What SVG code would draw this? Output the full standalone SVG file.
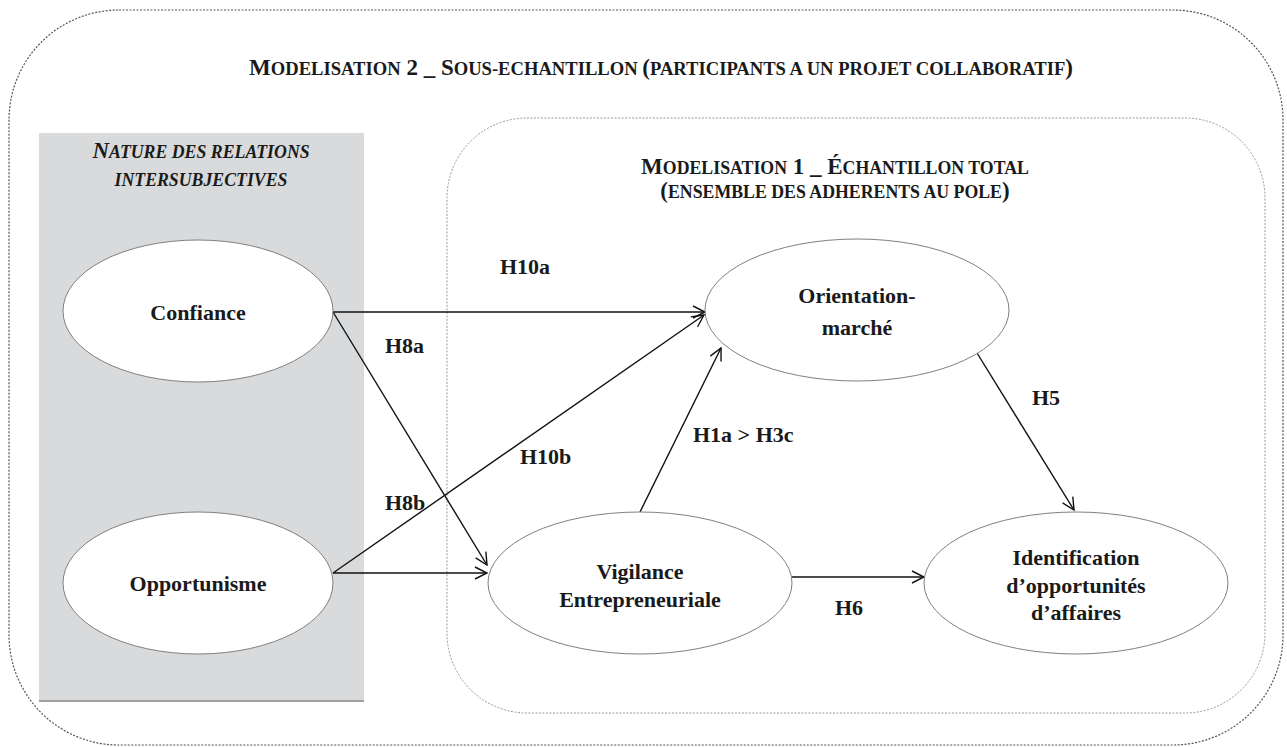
<svg xmlns="http://www.w3.org/2000/svg" width="1287" height="747" viewBox="0 0 1287 747">
<defs>
<style>
.t{font-family:"Liberation Serif","Times New Roman",serif;font-weight:bold;fill:#1a1a1a}
.lbl{font-size:22px}
.node{fill:#fff;stroke:#808080;stroke-width:1}
.conn{stroke:#111;stroke-width:1.4;fill:none;marker-end:url(#ah)}
.big{font-size:23px}
.sm{font-size:17.8px}
.smt{font-size:18.6px}
</style>
<marker id="ah" viewBox="0 0 14 14" refX="13" refY="7" markerWidth="14" markerHeight="14" markerUnits="userSpaceOnUse" orient="auto">
<path d="M1,1 L13,7 L1,13" fill="none" stroke="#111" stroke-width="1.4"/>
</marker>
</defs>
<rect id="outer-frame" x="9" y="10" width="1274" height="735" rx="110" ry="110" fill="none" stroke="#555" stroke-width="1.2" stroke-dasharray="2 1.5"/>
<text class="t" x="661" y="75" text-anchor="middle"><tspan class="big">M</tspan><tspan class="smt">ODELISATION</tspan><tspan class="big"> 2 _ S</tspan><tspan class="smt">OUS-ECHANTILLON </tspan><tspan class="big">(</tspan><tspan class="smt">PARTICIPANTS A UN PROJET COLLABORATIF</tspan><tspan class="big">)</tspan></text>
<g id="group-nature">
<rect x="39" y="133" width="325" height="569" fill="#d9dadb"/>
<line x1="39" y1="701" x2="364" y2="701" stroke="#a0a0a2" stroke-width="2"/>
<text class="t" x="201" y="158" text-anchor="middle" font-style="italic"><tspan class="big">N</tspan><tspan class="sm">ATURE DES RELATIONS</tspan></text>
<text class="t sm" x="201" y="186" text-anchor="middle" font-style="italic">INTERSUBJECTIVES</text>
</g>
<g id="group-modelisation1">
<rect x="447" y="118" width="818" height="595" rx="80" ry="80" fill="none" stroke="#999" stroke-width="1" stroke-dasharray="2 1.5"/>
<text class="t" x="835" y="174" text-anchor="middle"><tspan class="big">M</tspan><tspan class="sm">ODELISATION</tspan><tspan class="big"> 1 _ É</tspan><tspan class="sm">CHANTILLON TOTAL</tspan></text>
<text class="t" x="835" y="198" text-anchor="middle"><tspan class="big">(</tspan><tspan class="sm">ENSEMBLE DES ADHERENTS AU POLE</tspan><tspan class="big">)</tspan></text>
</g>
<g id="connectors">
<line class="conn" x1="333" y1="312" x2="705" y2="312"/>
<line class="conn" x1="333" y1="312" x2="487" y2="565"/>
<line class="conn" x1="333" y1="573" x2="704" y2="315"/>
<line class="conn" x1="333" y1="573" x2="487" y2="573"/>
<line class="conn" x1="640" y1="512" x2="721" y2="348"/>
<line class="conn" x1="977" y1="353" x2="1074" y2="510"/>
<line class="conn" x1="792" y1="577" x2="924" y2="577"/>
<text class="t lbl" x="500" y="274">H10a</text>
<text class="t lbl" x="385" y="353">H8a</text>
<text class="t lbl" x="520" y="464">H10b</text>
<text class="t lbl" x="385" y="510">H8b</text>
<text class="t lbl" x="693" y="442">H1a &gt; H3c</text>
<text class="t lbl" x="1032" y="405">H5</text>
<text class="t lbl" x="835" y="615">H6</text>
</g>
<g id="node-confiance">
<ellipse class="node" cx="198" cy="311" rx="135" ry="71"/>
<text class="t lbl" x="198" y="320" text-anchor="middle">Confiance</text>
</g>
<g id="node-opportunisme">
<ellipse class="node" cx="198" cy="583" rx="135" ry="71"/>
<text class="t lbl" x="198" y="591" text-anchor="middle">Opportunisme</text>
</g>
<g id="node-orientation">
<ellipse class="node" cx="857" cy="310" rx="152" ry="71"/>
<text class="t lbl" x="857" y="303" text-anchor="middle">Orientation-</text>
<text class="t lbl" x="857" y="335" text-anchor="middle">marché</text>
</g>
<g id="node-vigilance">
<ellipse class="node" cx="640" cy="583" rx="152" ry="71"/>
<text class="t lbl" x="640" y="579" text-anchor="middle">Vigilance</text>
<text class="t lbl" x="640" y="607" text-anchor="middle">Entrepreneuriale</text>
</g>
<g id="node-identification">
<ellipse class="node" cx="1076" cy="583" rx="152" ry="71"/>
<text class="t lbl" x="1076" y="565" text-anchor="middle">Identification</text>
<text class="t lbl" x="1076" y="593" text-anchor="middle">d’opportunités</text>
<text class="t lbl" x="1076" y="620" text-anchor="middle">d’affaires</text>
</g>
</svg>
